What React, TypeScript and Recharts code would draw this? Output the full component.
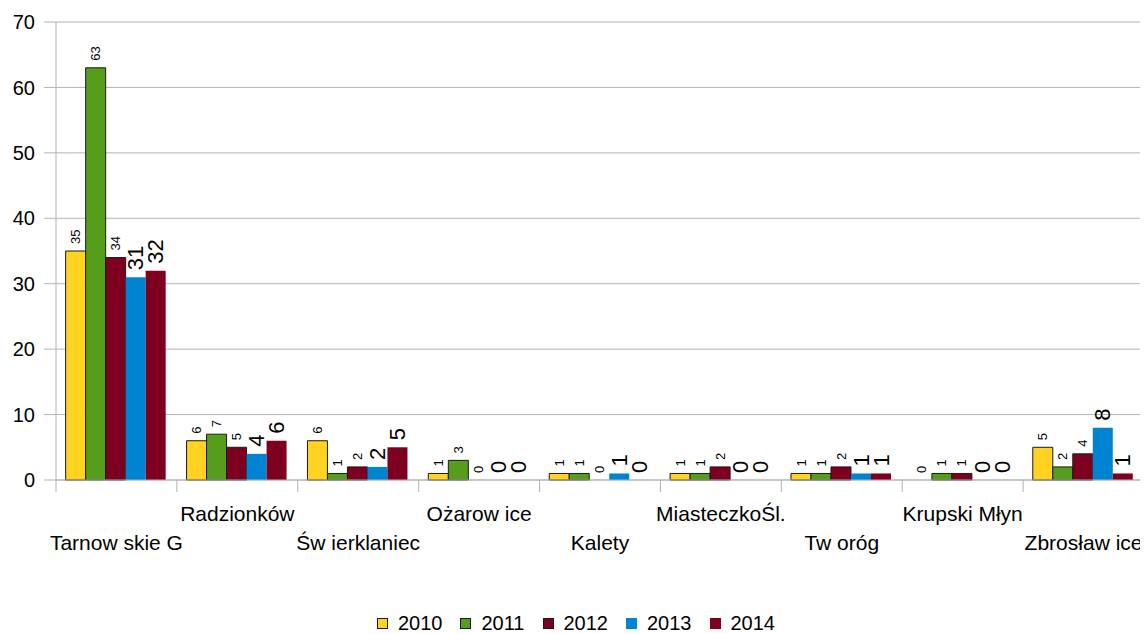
import React from 'react';
import { BarChart, Bar, XAxis, YAxis, CartesianGrid, Legend, LabelList, Rectangle } from 'recharts';

const categories = ['Tarnow skie G', 'Radzionków', 'Św ierklaniec', 'Ożarow ice', 'Kalety', 'MiasteczkoŚl.', 'Tw oróg', 'Krupski Młyn', 'Zbrosław ice'];
const v2010 = [35, 6, 6, 1, 1, 1, 1, 0, 5];
const v2011 = [63, 7, 1, 3, 1, 1, 1, 1, 2];
const v2012 = [34, 5, 2, 0, 0, 2, 2, 1, 4];
const v2013 = [31, 4, 2, 0, 1, 0, 1, 0, 8];
const v2014 = [32, 6, 5, 0, 0, 0, 1, 0, 1];
const yTicks = [0, 10, 20, 30, 40, 50, 60, 70];

const series = [
  { key: 'y2010', name: '2010', values: v2010, fill: '#FFD320', stroke: '#1a1a1a', big: false },
  { key: 'y2011', name: '2011', values: v2011, fill: '#579D1C', stroke: '#1a1a1a', big: false },
  { key: 'y2012', name: '2012', values: v2012, fill: '#7E0021', stroke: '#1a1a1a', big: false },
  { key: 'y2013', name: '2013', values: v2013, fill: '#0084D1', stroke: 'none', big: true },
  { key: 'y2014', name: '2014', values: v2014, fill: '#7E0021', stroke: 'none', big: true },
];

const data = categories.map((c, i) => {
  const row: any = { name: c };
  series.forEach((s) => { row[s.key] = s.values[i]; });
  return row;
});

const W = 1140;
const H = 626;
const MARGIN = { top: 14, right: 4, left: 0, bottom: 0 };
const Y_W = 48;
const BAND = (W - MARGIN.left - MARGIN.right - Y_W) / categories.length;
const FONT = '"Liberation Sans", Arial, sans-serif';
const GRID = '#b3b3b3';

const XTick = (props: any) => {
  const { x, y, payload, index } = props;
  const idx = payload && payload.index !== undefined ? payload.index : index;
  const upper = idx % 2 === 1;
  const last = idx === categories.length - 1;
  return (
    <g>
      <line x1={x - BAND / 2} x2={x - BAND / 2} y1={y} y2={y + 12} stroke={GRID} />
      {last && <line x1={x + BAND / 2} x2={x + BAND / 2} y1={y} y2={y + 12} stroke={GRID} />}
      <text x={x} y={y + (upper ? 34 : 63)} dy="0.35em" textAnchor="middle" fontSize={21} fontFamily={FONT} fill="#000">
        {payload.value}
      </text>
    </g>
  );
};

const makeLabel = (big: boolean) => (props: any) => {
  const { x, y, width, value } = props;
  const cx = Number(x) + Number(width) / 2;
  const ty = Number(y) - 7;
  return (
    <text
      x={cx}
      y={ty}
      transform={`rotate(-90, ${cx}, ${ty})`}
      textAnchor="start"
      dy="0.35em"
      fontSize={big ? 22 : 13}
      fontFamily={FONT}
      fill="#000"
    >
      {value}
    </text>
  );
};

const makeShape = (key: string) => (props: any) => {
  const v = props.payload ? props.payload[key] : props.value;
  if (v === 0) return <g />;
  return <Rectangle {...props} />;
};

const zeroMin = (value: any) => (value === 0 || (Array.isArray(value) && value[1] === 0) ? 0.01 : 0);

const LegendContent = () => (
  <div style={{ height: 30, paddingTop: 9, boxSizing: 'border-box', display: 'flex', justifyContent: 'center', alignItems: 'center', fontFamily: FONT }}>
    {series.map((s, i) => (
      <div key={s.key} style={{ display: 'flex', alignItems: 'center', height: 21, marginLeft: i === 0 ? 0 : 18 }}>
        <div style={{ width: 11, height: 11, boxSizing: 'border-box', background: s.fill, border: s.stroke === 'none' ? 'none' : `1px solid ${s.stroke}` }} />
        <span style={{ marginLeft: 10, fontSize: 20, color: '#000', lineHeight: '21px' }}>{s.name}</span>
      </div>
    ))}
  </div>
);

export default function App() {
  return (
    <BarChart width={W} height={H} data={data} margin={MARGIN} barCategoryGap="8%" barGap={0}>
      <CartesianGrid vertical={false} stroke={GRID} />
      <XAxis
        dataKey="name"
        height={124}
        tick={<XTick />}
        tickLine={false}
        tickSize={0}
        tickMargin={0}
        axisLine={{ stroke: GRID }}
        interval={0}
      />
      <YAxis
        width={Y_W}
        domain={[0, 70]}
        ticks={yTicks}
        tickSize={12}
        tickMargin={9}
        tickLine={{ stroke: GRID }}
        axisLine={{ stroke: GRID }}
        tick={{ fontSize: 20, fill: '#000', fontFamily: FONT }}
      />
      <YAxis yAxisId="r" orientation="right" width={0} domain={[0, 70]} tick={false} tickLine={false} axisLine={{ stroke: GRID }} />
      <Legend verticalAlign="bottom" content={<LegendContent />} />
      {series.map((s) => (
        <Bar
          key={s.key}
          dataKey={s.key}
          name={s.name}
          fill={s.fill}
          stroke={s.stroke}
          strokeWidth={1}
          minPointSize={zeroMin}
          shape={makeShape(s.key)}
          isAnimationActive={false}
        >
          <LabelList dataKey={s.key} content={makeLabel(s.big)} />
        </Bar>
      ))}
    </BarChart>
  );
}
